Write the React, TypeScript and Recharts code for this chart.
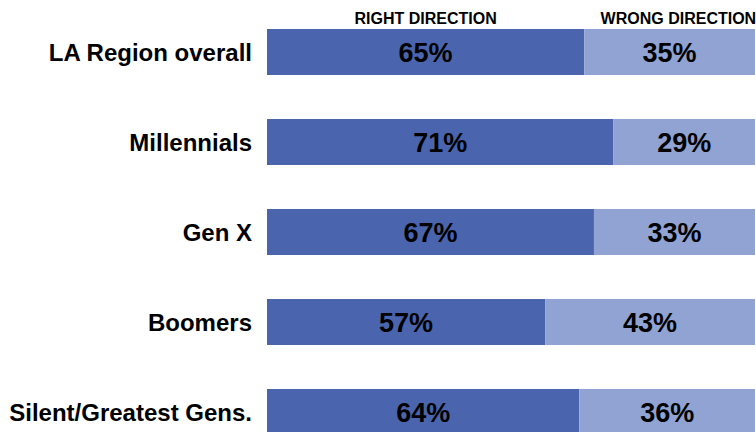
import React from "react";
import { BarChart, Bar, XAxis, YAxis, LabelList } from "recharts";

const categories = ["LA Region overall", "Millennials", "Gen X", "Boomers", "Silent/Greatest Gens."];
const rightDirection = [65, 71, 67, 57, 64];
const wrongDirection = [35, 29, 33, 43, 36];
const headerTicks = [32.5, 84.3];
const headerLabels = ["RIGHT DIRECTION", "WRONG DIRECTION"];

const data = categories.map((c, i) => ({
  name: c,
  right: rightDirection[i],
  wrong: wrongDirection[i],
}));

const FONT = "'Liberation Sans', Arial, sans-serif";

const CategoryTick = (props: any) => {
  const { x, y, payload } = props;
  return (
    <text x={x} y={y} dy="0.355em" textAnchor="end" fontFamily={FONT} fontWeight="bold" fontSize={24} fill="#000">
      {payload.value}
    </text>
  );
};

const HeaderTick = (props: any) => {
  const { x, y, index } = props;
  return (
    <text x={x} y={y + 17} textAnchor="middle" fontFamily={FONT} fontWeight="bold" fontSize={16} fill="#000">
      {headerLabels[index]}
    </text>
  );
};

export default function App() {
  return (
    <div style={{ position: "fixed", left: 0, top: 0, width: 756, height: 432, overflow: "hidden", background: "#fff" }}>
      <BarChart
        width={756}
        height={457}
        data={data}
        layout="vertical"
        margin={{ top: 0, right: 1, bottom: 0, left: 0 }}
        barSize={46}
      >
        <XAxis
          type="number"
          orientation="top"
          domain={[0, 100]}
          ticks={headerTicks}
          height={7}
          axisLine={false}
          tickLine={false}
          tickSize={0}
          tickMargin={0}
          tick={<HeaderTick />}
          interval={0}
        />
        <YAxis
          type="category"
          dataKey="name"
          width={267}
          axisLine={false}
          tickLine={false}
          tickSize={0}
          tickMargin={15}
          tick={<CategoryTick />}
          interval={0}
        />
        <Bar dataKey="right" stackId="a" fill="#4A65AE" isAnimationActive={false}>
          <LabelList
            dataKey="right"
            position="center"
            formatter={(v: any) => `${v}%`}
            style={{ fontFamily: FONT, fontWeight: "bold", fontSize: 27, fill: "#000" }}
          />
        </Bar>
        <Bar dataKey="wrong" stackId="a" fill="#91A3D3" isAnimationActive={false}>
          <LabelList
            dataKey="wrong"
            position="center"
            formatter={(v: any) => `${v}%`}
            style={{ fontFamily: FONT, fontWeight: "bold", fontSize: 27, fill: "#000" }}
          />
        </Bar>
      </BarChart>
    </div>
  );
}
